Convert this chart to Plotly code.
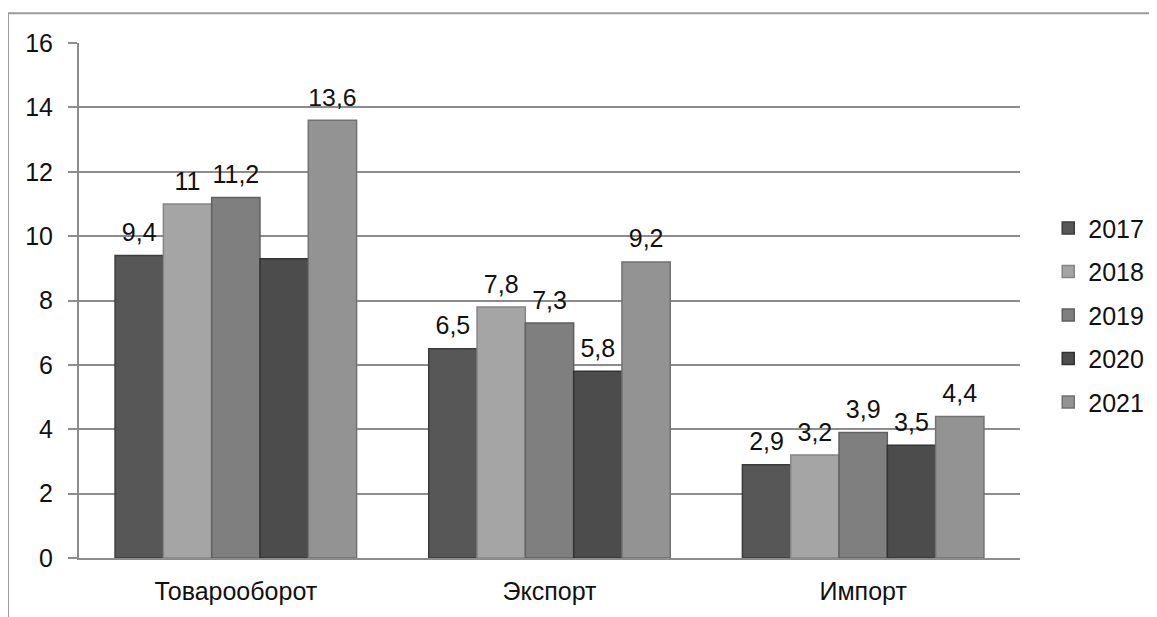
import plotly.graph_objects as go

categories = ["Товарооборот", "Экспорт", "Импорт"]
years = ["2017", "2018", "2019", "2020", "2021"]
values = {
    "2017": [9.4, 6.5, 2.9],
    "2018": [11.0, 7.8, 3.2],
    "2019": [11.2, 7.3, 3.9],
    "2020": [9.3, 5.8, 3.5],
    "2021": [13.6, 9.2, 4.4],
}
labels = {
    "2017": ["9,4", "6,5", "2,9"],
    "2018": ["11", "7,8", "3,2"],
    "2019": ["11,2", "7,3", "3,9"],
    "2020": ["", "5,8", "3,5"],
    "2021": ["13,6", "9,2", "4,4"],
}
colors = {
    "2017": "#575757",
    "2018": "#a5a5a5",
    "2019": "#7f7f7f",
    "2020": "#4c4c4c",
    "2021": "#939393",
}
line_colors = {
    "2017": "#3c3c3c",
    "2018": "#858585",
    "2019": "#606060",
    "2020": "#333333",
    "2021": "#727272",
}

FONT = "Liberation Sans, Arial"
FS = 25
LABEL_LIFT = 0.2  # extra gap between bar top and its value label (in axis units)

fig = go.Figure()
for y in years:
    fig.add_trace(go.Bar(
        name=y, x=categories, y=values[y],
        marker=dict(color=colors[y], line=dict(color=line_colors[y], width=1.5)),
        legendgroup=y,
    ))
# transparent copies on an overlaid axis, only to carry the value labels a bit higher
for y in years:
    fig.add_trace(go.Bar(
        name=y, x=categories, y=values[y], text=labels[y], yaxis="y2",
        textposition="outside", textangle=0, cliponaxis=False,
        textfont=dict(size=FS, color="#111111", family=FONT),
        marker=dict(color="rgba(0,0,0,0)", line=dict(width=0)),
        showlegend=False, hoverinfo="skip", legendgroup=y,
    ))

fig.update_layout(
    width=1157, height=617,
    margin=dict(l=71, r=145, t=35, b=67),
    paper_bgcolor="white", plot_bgcolor="white",
    barmode="group", bargap=0.23, bargroupgap=0.0,
    font=dict(family=FONT, size=FS, color="#111111"),
    showlegend=True,
    legend=dict(x=1.03, y=0.685, xanchor="left", yanchor="top",
                font=dict(size=FS), tracegroupgap=8, itemwidth=30,
                bgcolor="rgba(0,0,0,0)"),
    uniformtext=dict(mode=False),
    yaxis2=dict(overlaying="y", range=[-LABEL_LIFT, 16 - LABEL_LIFT], visible=False,
                showgrid=False, zeroline=False),
)
fig.layout.yaxis.update(range=[0, 16], dtick=2, showgrid=True, gridcolor="#8c8c8c", gridwidth=2,
                        showline=True, linecolor="#8c8c8c", linewidth=2,
                        ticks="outside", ticklen=9, tickcolor="#8c8c8c", tickwidth=2,
                        zeroline=False, tickfont=dict(size=FS), ticklabelstandoff=10)
fig.update_xaxes(showline=True, linecolor="#8c8c8c", linewidth=2, ticks="",
                 tickfont=dict(size=FS), ticklabelstandoff=10)

# outer chart frame (top and left edges)
fig.add_shape(type="line", xref="paper", yref="paper", x0=-0.0755, x1=1.16, y0=1.058, y1=1.058,
              line=dict(color="#9a9a9a", width=2))
fig.add_shape(type="line", xref="paper", yref="paper", x0=-0.0755, x1=-0.0755, y0=1.058, y1=-0.13,
              line=dict(color="#9a9a9a", width=2))

fig.write_html("out.html")
